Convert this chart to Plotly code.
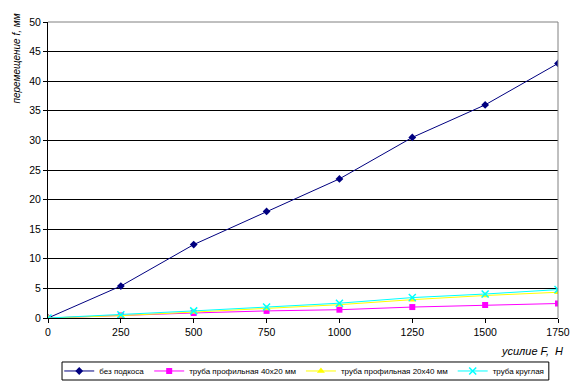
import plotly.graph_objects as go

force = [0, 250, 500, 750, 1000, 1250, 1500, 1750]
no_brace = [0, 5.4, 12.4, 18.0, 23.5, 30.5, 36.0, 43.0]
tube_40x20 = [0, 0.45, 0.85, 1.2, 1.4, 1.85, 2.2, 2.45]
tube_20x40 = [0, 0.4, 1.0, 1.6, 2.25, 3.1, 3.8, 4.35]
tube_round = [0, 0.55, 1.2, 1.85, 2.5, 3.45, 4.05, 4.8]

names = ["без подкоса", "труба профильная 40x20 мм", "труба профильная 20x40 мм", "труба круглая"]
x_ticks = [0, 250, 500, 750, 1000, 1250, 1500, 1750]
y_ticks = [0, 5, 10, 15, 20, 25, 30, 35, 40, 45, 50]

fig = go.Figure()
series = [
    (no_brace, "#000080", dict(symbol="diamond", size=6, color="#000080")),
    (tube_40x20, "#FF00FF", dict(symbol="square", size=6, color="#FF00FF")),
    (tube_20x40, "#FFFF00", dict(symbol="triangle-up", size=7, color="#FFFF00")),
    (tube_round, "#00FFFF", dict(symbol="x-thin-open", size=7, color="#00FFFF", line=dict(width=1.5, color="#00FFFF"))),
]
for (vals, col, mk), nm in zip(series, names):
    fig.add_trace(go.Scatter(x=force, y=vals, name=nm, mode="lines+markers",
                             line=dict(color=col, width=1), marker=mk))

fig.update_layout(
    width=585, height=390,
    margin=dict(l=48, r=27, t=22, b=72, autoexpand=False),
    paper_bgcolor="white", plot_bgcolor="white",
    font=dict(family="Liberation Sans, Arial, sans-serif", size=10, color="black"),
    showlegend=True,
    legend=dict(orientation="h", x=0.022, y=-0.179, xanchor="left", yanchor="middle",
                borderwidth=0, bgcolor="rgba(0,0,0,0)", font=dict(size=8),
                itemwidth=30, tracegroupgap=0),
    xaxis=dict(range=[0, 1750], tickvals=x_ticks, showgrid=False, showline=True,
               linecolor="black", linewidth=1, ticks="outside", ticklen=4,
               tickcolor="black", zeroline=False, mirror=False, automargin=False,
               tickfont=dict(size=10.5)),
    yaxis=dict(range=[0, 50], tickvals=y_ticks, showgrid=True, gridcolor="black",
               gridwidth=1, showline=True, linecolor="black", linewidth=1,
               ticks="outside", ticklen=4, tickcolor="black", zeroline=False,
               automargin=False, tickfont=dict(size=10.5)),
    shapes=[
        dict(type="line", xref="paper", yref="paper", x0=0, x1=1, y0=1, y1=1,
             line=dict(color="#808080", width=1)),
        dict(type="line", xref="paper", yref="paper", x0=1, x1=1, y0=0, y1=1,
             line=dict(color="#808080", width=1)),
        dict(type="rect", xref="paper", yref="paper", x0=0.0275, x1=0.982,
             y0=-0.2095, y1=-0.1486, line=dict(color="black", width=1)),
    ],
    annotations=[
        dict(text="<i>усилие F,  H</i>", xref="paper", yref="paper", x=1.013, y=-0.085,
             xanchor="right", yanchor="top", showarrow=False, font=dict(size=11)),
        dict(text="<i>перемещение f, мм</i>", xref="paper", yref="paper", x=-0.061, y=1.035,
             xanchor="center", yanchor="top", textangle=-90, showarrow=False,
             font=dict(size=10)),
    ],
)

fig.write_html("out.html", config={"displayModeBar": False},
               post_script="document.body.style.margin='0';")
